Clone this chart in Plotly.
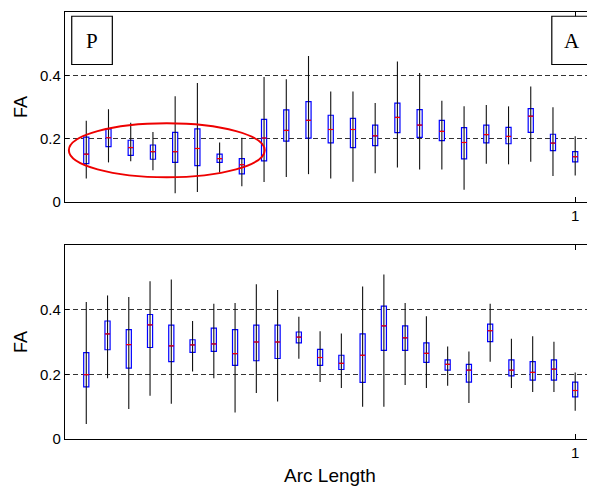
import plotly.graph_objects as go

# ---- data: top panel (23 positions) ----
top_hi  = [0.257,0.293,0.250,0.221,0.334,0.376,0.188,0.203,0.395,0.388,0.461,0.349,0.349,0.313,0.444,0.407,0.320,0.302,0.306,0.302,0.365,0.299,0.208]
top_q3  = [0.205,0.231,0.195,0.180,0.220,0.231,0.151,0.137,0.261,0.291,0.317,0.274,0.264,0.243,0.312,0.292,0.258,0.235,0.243,0.236,0.295,0.214,0.159]
top_med = [0.151,0.203,0.172,0.159,0.159,0.169,0.137,0.118,0.202,0.226,0.258,0.229,0.229,0.209,0.267,0.243,0.223,0.188,0.213,0.207,0.271,0.186,0.143]
top_q1  = [0.121,0.175,0.147,0.135,0.125,0.115,0.125,0.089,0.130,0.192,0.202,0.187,0.172,0.178,0.219,0.204,0.194,0.136,0.187,0.184,0.220,0.162,0.127]
top_lo  = [0.074,0.125,0.129,0.100,0.028,0.032,0.093,0.050,0.063,0.079,0.088,0.074,0.064,0.091,0.109,0.103,0.103,0.039,0.121,0.119,0.127,0.082,0.084]

# ---- data: bottom panel (24 positions) ----
bot_hi  = [0.424,0.444,0.439,0.488,0.493,0.365,0.418,0.421,0.479,0.461,0.378,0.333,0.326,0.472,0.509,0.421,0.380,0.286,0.271,0.418,0.310,0.318,0.301,0.206]
bot_q3  = [0.267,0.365,0.338,0.385,0.352,0.307,0.343,0.338,0.352,0.352,0.331,0.277,0.259,0.325,0.411,0.350,0.297,0.245,0.231,0.355,0.245,0.239,0.245,0.176]
bot_med = [0.199,0.325,0.292,0.353,0.288,0.291,0.294,0.264,0.300,0.300,0.315,0.252,0.234,0.259,0.350,0.313,0.265,0.231,0.213,0.335,0.213,0.206,0.216,0.150]
bot_q1  = [0.161,0.276,0.219,0.283,0.239,0.268,0.271,0.228,0.242,0.249,0.297,0.228,0.215,0.175,0.274,0.274,0.237,0.213,0.176,0.301,0.195,0.182,0.182,0.130]
bot_lo  = [0.046,0.188,0.093,0.134,0.109,0.209,0.188,0.082,0.142,0.116,0.248,0.176,0.158,0.100,0.100,0.167,0.158,0.165,0.111,0.239,0.158,0.145,0.145,0.087]

y_ticks = [0, 0.2, 0.4]
y_tick_labels = ["0", "0.2", "0.4"]
x_ticks = [1]
x_tick_labels = ["1"]

fig = go.Figure()

BW = 0.0105  # box width in data units
FONT = "Liberation Sans, Arial, sans-serif"


def add_panel(hi, q3, med, q1, lo, xa, ya):
    n = len(hi)
    xs = [i / (n - 1) for i in range(n)]
    wx, wy = [], []
    for x, l, h in zip(xs, lo, hi):
        wx += [x, x, None]
        wy += [l, h, None]
    fig.add_trace(go.Scatter(x=wx, y=wy, mode="lines", line=dict(color="#111", width=1.1),
                             xaxis=xa, yaxis=ya, showlegend=False, hoverinfo="skip"))
    fig.add_trace(go.Box(x=xs, q1=q1, median=med, q3=q3, lowerfence=q1, upperfence=q3,
                         width=BW, whiskerwidth=0, line=dict(color="#0000ff", width=1.2),
                         fillcolor="white", xaxis=xa, yaxis=ya, showlegend=False,
                         boxpoints=False))
    mx, my = [], []
    for x, m in zip(xs, med):
        mx += [x - BW / 2, x + BW / 2, None]
        my += [m, m, None]
    fig.add_trace(go.Scatter(x=mx, y=my, mode="lines", line=dict(color="#ff0000", width=1.2),
                             xaxis=xa, yaxis=ya, showlegend=False, hoverinfo="skip"))


add_panel(top_hi, top_q3, top_med, top_q1, top_lo, "x", "y")
add_panel(bot_hi, bot_q3, bot_med, bot_q1, bot_lo, "x2", "y2")

xcommon = dict(range=[-0.0435, 1.0405], tickvals=x_ticks, ticktext=x_tick_labels,
               ticks="inside", ticklen=5, tickcolor="black", showline=True, linecolor="black",
               linewidth=1.2, mirror="ticks", showgrid=False, zeroline=False, automargin=False,
               tickfont=dict(family=FONT, size=15, color="black"))
ycommon = dict(range=[0, 0.6], tickvals=y_ticks, ticktext=y_tick_labels,
               ticks="inside", ticklen=4, tickcolor="black", showline=True, linecolor="black",
               linewidth=1.2, mirror="ticks", showgrid=True, gridcolor="#333", gridwidth=1.1,
               griddash="5px,3px", zeroline=False, automargin=False,
               tickfont=dict(family=FONT, size=15, color="black"),
               title=dict(text="FA", font=dict(family=FONT, size=18, color="black"), standoff=7))

# the page body has an 8px margin, so the figure is sized/margined to compensate
fig.update_layout(
    width=587, height=478,
    margin=dict(l=57, r=0, t=4, b=47, autoexpand=False),
    paper_bgcolor="white", plot_bgcolor="white",
    xaxis=dict(domain=[0, 1], anchor="y", **xcommon),
    yaxis=dict(domain=[0.555, 1], anchor="x", **ycommon),
    xaxis2=dict(domain=[0, 1], anchor="y2",
                title=dict(text="Arc Length", font=dict(family=FONT, size=19, color="black"), standoff=8),
                **xcommon),
    yaxis2=dict(domain=[0, 0.4543], anchor="x2", **ycommon),
    showlegend=False,
)

# red ellipse highlight
fig.add_shape(type="circle", xref="x", yref="y", x0=-0.0356, x1=0.365, y0=0.078, y1=0.249,
              line=dict(color="#ee0000", width=2))

# P and A label boxes
for txt, x0, x1 in [("P", 0.0127, 0.0893), ("A", 0.9185, 0.994)]:
    fig.add_shape(type="rect", xref="paper", yref="paper", x0=x0, x1=x1,
                  y0=0.877, y1=0.99, line=dict(color="black", width=1.2), fillcolor="white")
    fig.add_annotation(text=txt, xref="paper", yref="paper", x=(x0 + x1) / 2, y=0.933,
                       xanchor="center", yanchor="middle", showarrow=False,
                       font=dict(family="Liberation Serif, Times New Roman, serif",
                                 size=21, color="black"))

fig.write_html("out.html")
